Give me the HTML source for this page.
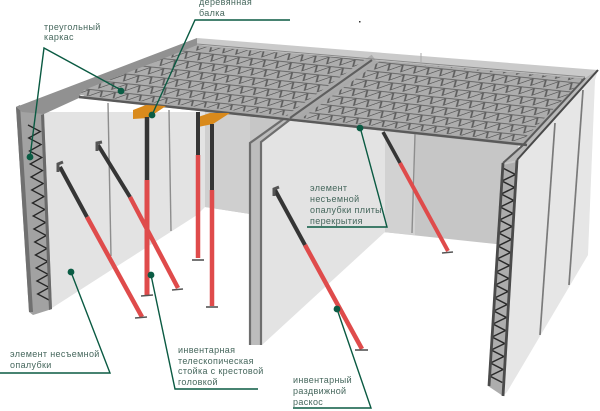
<!DOCTYPE html>
<html><head><meta charset="utf-8"><style>
html,body{margin:0;padding:0;background:#fff;width:600px;height:411px;overflow:hidden}
svg{display:block}
text{font-family:"Liberation Sans",sans-serif;font-size:9px;fill:#46675d;letter-spacing:.35px}
</style></head><body>
<svg width="600" height="411" viewBox="0 0 600 411" xmlns="http://www.w3.org/2000/svg">
<defs>
<filter id="b" x="-5%" y="-5%" width="110%" height="110%"><feGaussianBlur stdDeviation="0.35"/></filter>
<filter id="t" x="-5%" y="-5%" width="110%" height="110%"><feGaussianBlur stdDeviation="0.25"/></filter>
<pattern id="deckL" patternUnits="userSpaceOnUse" width="13" height="10" patternTransform="matrix(1,0.105,1.18,-0.84,79,97)">
<rect width="13" height="10" fill="#adadad"/>
<path d="M0 8.5L6.5 1.5L13 8.5" fill="none" stroke="#5c5c5c" stroke-width="1.25"/>
<path d="M0 9H13" stroke="#666" stroke-width="1"/>
</pattern>
<pattern id="deckR" patternUnits="userSpaceOnUse" width="13" height="10" patternTransform="matrix(1,0.105,1.18,-0.84,296,120)">
<rect width="13" height="10" fill="#adadad"/>
<path d="M0 8.5L6.5 1.5L13 8.5" fill="none" stroke="#5c5c5c" stroke-width="1.25"/>
<path d="M0 9H13" stroke="#666" stroke-width="1"/>
</pattern>
</defs>
<rect width="600" height="411" fill="#fff"/>
<g filter="url(#b)">
<!-- back wall -->
<polygon points="205,105 520,135 505,245 383,232 250,214 205,207" fill="#c6c6c6"/>
<polygon points="385,125 415,130 415,235 383,232" fill="#d2d2d2"/>
<polygon points="205,105 250,110 250,214 205,207" fill="#cfcfcf"/>
<!-- left wall -->
<polygon points="44,112 205,112 205,207 197,215 52,308" fill="#e3e3e3"/>
<line x1="108" y1="103" x2="111" y2="256" stroke="#8d8d8d" stroke-width="1.4"/>
<line x1="169" y1="110" x2="171" y2="231" stroke="#8d8d8d" stroke-width="1.4"/>
<!-- left truss -->
<polygon points="16,107 22,105 44,112 52,309 33,315 29,312" fill="#a2a2a2"/>
<polygon points="16,107 20,105 33,312 29,312" fill="#707070"/>
<polyline fill="none" stroke="#262626" stroke-width="1.3" points="28,125 40.4,131.5 28.7,138 41.1,144.5 29.5,151 41.9,157.5 30.2,164 42.6,170.5 31,177 43.3,183.5 31.7,190 44.1,196.5 32.4,203 44.8,209.5 33.2,216 45.6,222.5 33.9,229 46.3,235.5 34.7,242 47,248.5 35.4,255 47.8,261.5 36.1,268 48.5,274.5 36.9,281 49.3,287.5 37.6,294 50,300.5"/>
<polygon points="41,115 44,114 52,309 49,310" fill="#6a6a6a"/>
<!-- mid wall -->
<polygon points="262,140 290,120 385,128 385,232 262,345" fill="#e3e3e3"/>
<polygon points="250,143 282,118 290,120 262,142 261,345 250,345" fill="#bcbcbc"/>
<path d="M250 345V143L285 118M261 345V142L292 118" fill="none" stroke="#6e6e6e" stroke-width="2.2"/>
<line x1="415" y1="134" x2="412" y2="233" stroke="#8d8d8d" stroke-width="1.4"/>
<!-- right wall -->
<polygon points="517,160 598,70 595,80 588,255 507,392 503,396" fill="#e6e6e6"/>
<line x1="555" y1="123" x2="540" y2="335" stroke="#7a7a7a" stroke-width="1.7"/>
<line x1="583" y1="90" x2="569" y2="285" stroke="#7a7a7a" stroke-width="1.7"/>
<!-- right truss -->
<polygon points="503,165 517,162 503,396 488,386" fill="#adadad"/>
<polyline fill="none" stroke="#2b2b2b" stroke-width="1.5" points="502.8,168 515.4,174.5 502,181 514.6,187.5 501.2,194 513.7,200.5 500.3,207 512.9,213.5 499.5,220 512.1,226.5 498.7,233 511.3,239.5 497.9,246 510.5,252.5 497.1,259 509.6,265.5 496.2,272 508.8,278.5 495.4,285 508,291.5 494.6,298 507.2,304.5 493.8,311 506.4,317.5 493,324 505.5,330.5 492.1,337 504.7,343.5 491.3,350 503.9,356.5 490.5,363 503.1,369.5 489.7,376 502.3,382.5"/>
<line x1="503" y1="163" x2="489" y2="386" stroke="#4b4b4b" stroke-width="2.8"/>
<line x1="517" y1="160" x2="503" y2="396" stroke="#4b4b4b" stroke-width="2.8"/>
<!-- roof -->
<polygon points="16,107 197,38 205,45 82,92 79,98 44,114 22,112" fill="#919191"/>
<polygon points="197,38 598,70 585,78 197,45" fill="#cacaca"/>
<polygon points="197,45 585,78 598,70 517,160 503,163 522,146 79,98" fill="#a9a9a9"/>
<polygon points="520,147 586,78 598,70 517,160 503,163" fill="#b9b9b9"/>
<polygon points="84,90 195,46 372,60 290,116 79,95" fill="url(#deckL)"/>
<polygon points="380,61 583,79 521,142 302,118" fill="url(#deckR)"/>
<path d="M374 58L290 118" stroke="#ababab" stroke-width="8"/>
<path d="M372 60L290 118" stroke="#5e5e5e" stroke-width="2"/>
<path d="M79 97L527 145" stroke="#5a5a5a" stroke-width="2.4"/>
<path d="M585 78L522 146L503 163" fill="none" stroke="#5a5a5a" stroke-width="2"/>
<path d="M598 70L517 160" stroke="#4a4a4a" stroke-width="2"/>
<path d="M197 44L585 77" stroke="#8a8a8a" stroke-width="1"/>
<line x1="421" y1="53" x2="421" y2="63" stroke="#aaa"/>
<rect x="359" y="21" width="1.5" height="1.5" fill="#333"/>
<!-- beams -->
<polygon points="133,110 146,105 166,106 148,118 133,119" fill="#d98a1f"/>
<polygon points="198,117 210,113 230,113 213,124 198,127" fill="#d98a1f"/>
<!-- props -->
<g fill="none" stroke-linecap="butt">
<line x1="198" y1="112" x2="198" y2="155" stroke="#343434" stroke-width="4"/>
<line x1="198" y1="155" x2="198" y2="258" stroke="#df4c4c" stroke-width="4.5"/>
<line x1="192" y1="260" x2="204" y2="260" stroke="#555" stroke-width="1.6"/>
<line x1="98" y1="145" x2="130" y2="197" stroke="#343434" stroke-width="4"/>
<line x1="130" y1="197" x2="178" y2="288" stroke="#df4c4c" stroke-width="4.5"/>
<line x1="172" y1="290" x2="183" y2="289" stroke="#555" stroke-width="1.6"/>
<line x1="147" y1="117" x2="147" y2="180" stroke="#343434" stroke-width="4.5"/>
<line x1="147" y1="180" x2="147" y2="295" stroke="#df4c4c" stroke-width="5"/>
<line x1="141" y1="296" x2="153" y2="295" stroke="#555" stroke-width="1.6"/>
<line x1="212" y1="124" x2="212" y2="190" stroke="#343434" stroke-width="4"/>
<line x1="212" y1="190" x2="212" y2="306" stroke="#df4c4c" stroke-width="4.5"/>
<line x1="206" y1="307" x2="218" y2="307" stroke="#555" stroke-width="1.6"/>
<line x1="60" y1="167" x2="87" y2="217" stroke="#343434" stroke-width="4"/>
<line x1="87" y1="217" x2="142" y2="317" stroke="#df4c4c" stroke-width="4.5"/>
<line x1="135" y1="318" x2="147" y2="317" stroke="#555" stroke-width="1.6"/>
<line x1="275" y1="190" x2="305" y2="245" stroke="#343434" stroke-width="4"/>
<line x1="305" y1="245" x2="362" y2="349" stroke="#df4c4c" stroke-width="4.5"/>
<line x1="355" y1="350" x2="368" y2="350" stroke="#555" stroke-width="1.6"/>
<line x1="383" y1="132" x2="400" y2="163" stroke="#343434" stroke-width="3.5"/>
<line x1="400" y1="163" x2="448" y2="251" stroke="#df4c4c" stroke-width="4"/>
<line x1="442" y1="253" x2="453" y2="252" stroke="#555" stroke-width="1.6"/>
<path d="M58 172V164L63 162" stroke="#555" stroke-width="3"/>
<path d="M97 151V143L102 142" stroke="#555" stroke-width="3"/>
<path d="M274 196V189L279 187" stroke="#555" stroke-width="3"/>
</g>
</g>
<!-- leaders -->
<g fill="none" stroke="#0a5a42" stroke-width="1.4">
<polyline points="121,90 44,48 30,157"/>
<polyline points="290,20 195,20 152,115"/>
<polyline points="360,127 387,227 307,227"/>
<polyline points="71,272 110,373 0,373"/>
<polyline points="151,275 175,389 258,389"/>
<polyline points="337,309 371,408 293,408"/>
</g>
<g fill="#0a5c44">
<circle cx="121" cy="91" r="3.4"/><circle cx="30" cy="157" r="3.4"/><circle cx="152" cy="115" r="3.4"/>
<circle cx="360" cy="128" r="3.4"/><circle cx="71" cy="272" r="3.4"/><circle cx="151" cy="275" r="3.4"/><circle cx="337" cy="309" r="3.4"/>
</g>
<g filter="url(#t)">
<text x="44" y="30">треугольный</text>
<text x="44" y="40">каркас</text>
<text x="199" y="5">деревянная</text>
<text x="199" y="16">балка</text>
<text x="310" y="191">элемент</text>
<text x="310" y="202">несъемной</text>
<text x="310" y="213">опалубки плиты</text>
<text x="310" y="224">перекрытия</text>
<text x="10" y="357">элемент несъемной</text>
<text x="10" y="368">опалубки</text>
<text x="178" y="353">инвентарная</text>
<text x="178" y="364">телескопическая</text>
<text x="178" y="374">стойка с крестовой</text>
<text x="178" y="385">головкой</text>
<text x="293" y="383">инвентарный</text>
<text x="293" y="394">раздвижной</text>
<text x="293" y="405">раскос</text>
</g>
</svg>
</body></html>
